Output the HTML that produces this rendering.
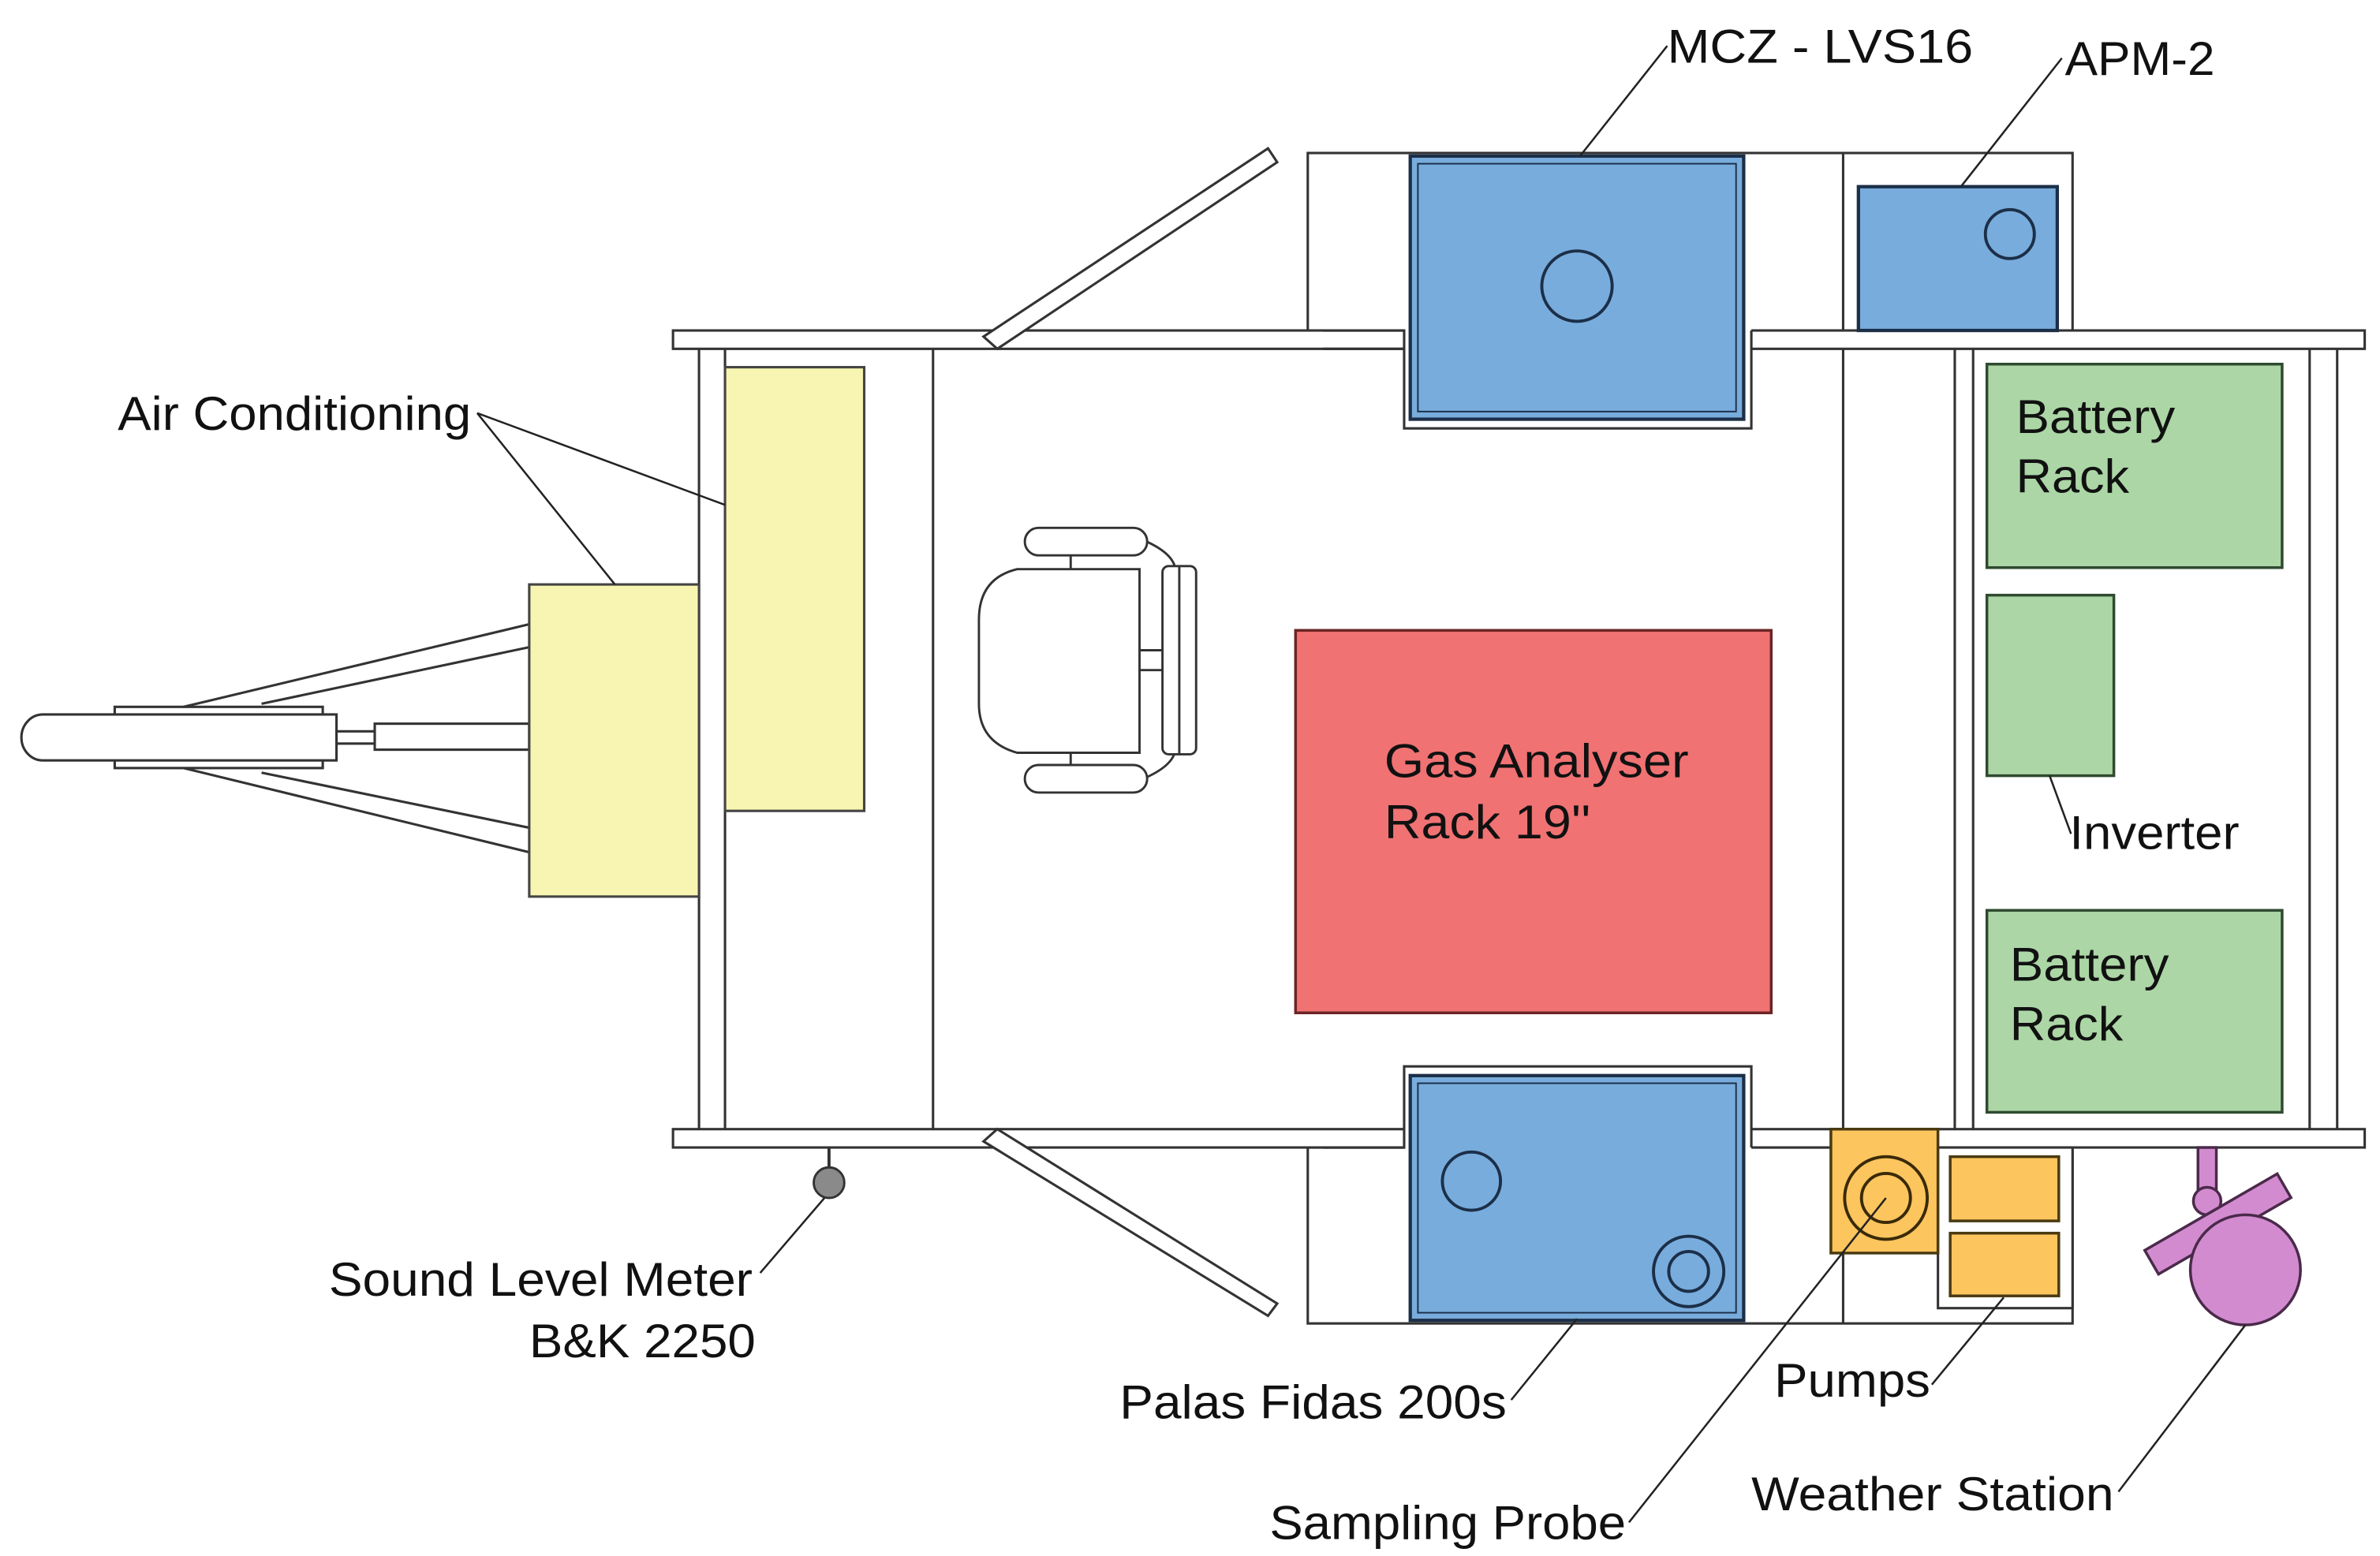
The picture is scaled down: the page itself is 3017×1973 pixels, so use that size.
<!DOCTYPE html>
<html><head><meta charset="utf-8"><style>
html,body{margin:0;padding:0;background:#fff;}
svg{display:block;}
text{font-family:"Liberation Sans",sans-serif;font-size:31px;fill:#111;}
</style></head><body>
<svg width="3017" height="1973" viewBox="0 0 1556 1017" preserveAspectRatio="none" xmlns="http://www.w3.org/2000/svg">
<g stroke="#333" stroke-width="1.6" fill="#fff">
<rect x="855" y="100" width="500" height="116"/>
<rect x="855" y="750" width="500" height="115"/>
<rect x="440" y="216" width="1106" height="12"/>
<rect x="440" y="738" width="1106" height="12"/>
<line x1="457" y1="228" x2="457" y2="738"/>
<line x1="474" y1="228" x2="474" y2="738"/>
<line x1="610" y1="228" x2="610" y2="738"/>
<line x1="1205" y1="100" x2="1205" y2="216"/>
<line x1="1205" y1="228" x2="1205" y2="738"/>
<line x1="1205" y1="750" x2="1205" y2="865"/>
<line x1="1278" y1="228" x2="1278" y2="738"/>
<line x1="1290" y1="228" x2="1290" y2="738"/>
<line x1="1510" y1="228" x2="1510" y2="738"/>
<line x1="1528" y1="228" x2="1528" y2="738"/>
<rect x="918" y="214" width="227" height="66" stroke="none"/>
<path d="M865 216 H918 V280 H1145 V216" fill="none"/>
<path d="M865 228 H918" fill="none"/>
<rect x="918" y="697" width="227" height="55" stroke="none"/>
<path d="M865 750 H918 V697 H1145 V750" fill="none"/>
<polygon points="643,220 829,97 835,106 652,228"/>
<polygon points="643,746 829,860 835,852 652,738"/>
<line x1="120" y1="462" x2="346" y2="408"/>
<line x1="171" y1="460" x2="346" y2="423"/>
<line x1="120" y1="502" x2="346" y2="557"/>
<line x1="171" y1="505" x2="346" y2="541"/>
<rect x="75" y="462" width="136" height="40"/>
<path d="M28 467 H220 V497 H28 A14 15 0 0 1 28 467 Z"/>
<rect x="220" y="478" width="25" height="8"/>
<rect x="245" y="473" width="101" height="17"/>
</g>
<g stroke="#444" stroke-width="1.6" fill="#f7f5b1">
<rect x="474" y="240" width="91" height="290"/>
<rect x="346" y="382" width="111" height="204"/>
</g>
<g stroke="#1c2f48" stroke-width="2.2" fill="#78acdc">
<rect x="922" y="102" width="218" height="172"/>
<rect x="922" y="703" width="218" height="160"/>
<rect x="1215" y="122" width="130" height="94"/>
</g>
<g stroke="#1c2f48" stroke-width="1" fill="none">
<rect x="927" y="107" width="208" height="162"/>
<rect x="927" y="708" width="208" height="150"/>
</g>
<g stroke="#1c2f48" stroke-width="2" fill="none">
<circle cx="1031" cy="187" r="23"/>
<circle cx="1314" cy="153" r="16"/>
<circle cx="962" cy="772" r="19"/>
<circle cx="1104" cy="831" r="23"/>
<circle cx="1104" cy="831" r="13"/>
</g>
<rect x="847" y="412" width="311" height="250" fill="#f07273" stroke="#6b2424" stroke-width="1.8"/>
<text x="905" y="508" textLength="199" lengthAdjust="spacingAndGlyphs">Gas Analyser</text>
<text x="905" y="548" textLength="135" lengthAdjust="spacingAndGlyphs">Rack 19''</text>
<g stroke="#2f4a2f" stroke-width="1.8" fill="#acd6a6">
<rect x="1299" y="238" width="193" height="133"/>
<rect x="1299" y="389" width="83" height="118"/>
<rect x="1299" y="595" width="193" height="132"/>
</g>
<text x="1318" y="283" textLength="104" lengthAdjust="spacingAndGlyphs">Battery</text>
<text x="1318" y="322" textLength="74" lengthAdjust="spacingAndGlyphs">Rack</text>
<text x="1314" y="641" textLength="104" lengthAdjust="spacingAndGlyphs">Battery</text>
<text x="1314" y="680" textLength="74" lengthAdjust="spacingAndGlyphs">Rack</text>
<text x="1353" y="555" textLength="111" lengthAdjust="spacingAndGlyphs">Inverter</text>
<rect x="1267" y="750" width="88" height="105" fill="#fff" stroke="#333" stroke-width="1.6"/>
<g stroke="#4a3a10" stroke-width="1.8" fill="#fcc55e">
<rect x="1197" y="738" width="70" height="81"/>
<rect x="1275" y="756" width="71" height="42"/>
<rect x="1275" y="806" width="71" height="41"/>
</g>
<g stroke="#3a2a08" stroke-width="2" fill="none">
<circle cx="1233" cy="783" r="27"/>
<circle cx="1233" cy="783" r="16"/>
</g>
<g stroke="#4a2a4a" stroke-width="1.8" fill="#d38bd0">
<rect x="1437" y="750" width="12" height="34"/>
<circle cx="1443" cy="785" r="9"/>
<rect x="1400" y="791" width="100" height="18" transform="rotate(-30 1450 800)"/>
<circle cx="1468" cy="830" r="36"/>
</g>
<g stroke="#333" stroke-width="1.5" fill="#fff">
<path d="M745 425 H760 M745 438 H760" fill="none"/>
<path d="M745 352 Q765 360 768 370 M745 510 Q765 502 768 492" fill="none"/>
<rect x="670" y="345" width="80" height="18" rx="9"/>
<rect x="670" y="500" width="80" height="18" rx="9"/>
<path d="M700 363 V372 M700 492 V500" fill="none"/>
<path d="M665 372 H745 V492 H665 Q640 485 640 460 V405 Q640 378 665 372 Z"/>
<rect x="760" y="370" width="22" height="123" rx="4"/>
<line x1="771" y1="370" x2="771" y2="493"/>
</g>
<line x1="542" y1="750" x2="542" y2="765" stroke="#333" stroke-width="2"/>
<circle cx="542" cy="773" r="10" fill="#8a8a8a" stroke="#333" stroke-width="1.5"/>
<g stroke="#222" stroke-width="1.3" fill="none">
<path d="M312 270 L474 330 M312 270 L402 382"/>
<path d="M1090 30 L1033 102"/>
<path d="M1348 38 L1282 122"/>
<path d="M1340 507 L1354 545"/>
<path d="M497 832 L539 783"/>
<path d="M988 915 L1031 862"/>
<path d="M1263 905 L1310 848"/>
<path d="M1065 995 L1233 783"/>
<path d="M1385 975 L1468 866"/>
</g>
<text x="77" y="281" textLength="231" lengthAdjust="spacingAndGlyphs">Air Conditioning</text>
<text x="1090" y="41" textLength="200" lengthAdjust="spacingAndGlyphs">MCZ - LVS16</text>
<text x="1350" y="49" textLength="98" lengthAdjust="spacingAndGlyphs">APM-2</text>
<text x="215" y="847" textLength="277" lengthAdjust="spacingAndGlyphs">Sound Level Meter</text>
<text x="346" y="887" textLength="148" lengthAdjust="spacingAndGlyphs">B&amp;K 2250</text>
<text x="732" y="927" textLength="253" lengthAdjust="spacingAndGlyphs">Palas Fidas 200s</text>
<text x="1160" y="913" textLength="102" lengthAdjust="spacingAndGlyphs">Pumps</text>
<text x="830" y="1006" textLength="233" lengthAdjust="spacingAndGlyphs">Sampling Probe</text>
<text x="1145" y="987" textLength="237" lengthAdjust="spacingAndGlyphs">Weather Station</text>
</svg>
</body></html>
